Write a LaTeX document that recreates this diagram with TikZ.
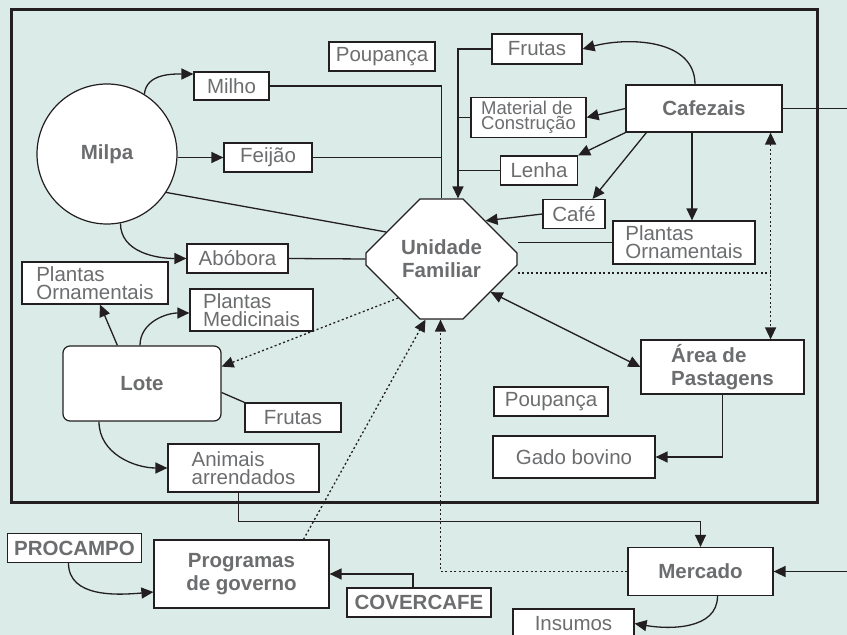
\documentclass[tikz,border=0pt]{standalone}
\usepackage{fontspec}
\setmainfont{Liberation Sans}
\usepackage{xcolor}
\usetikzlibrary{shapes, arrows.meta, calc, positioning, shapes.misc}
\definecolor{bgteal}{RGB}{219,235,232}
\definecolor{txtgray}{RGB}{108,109,111}
\definecolor{inkblack}{RGB}{35,31,32}

\newcommand{\regfont}{\fontsize{20.5}{18}\selectfont}
\newcommand{\heavyfont}{\fontsize{20.5}{23}\selectfont\bfseries}
\newcommand{\tinyfont}{\fontsize{18.5}{15}\selectfont}

\begin{document}
\begin{tikzpicture}[x=1pt, y=1pt, >={Triangle[length=12pt, width=11pt]}]
        \fill [bgteal] (0, 0) rectangle (847, 635);
        \useasboundingbox (0, 0) rectangle (847, 635);
        \clip (0, 0) rectangle (847, 635);

        \tikzstyle{box} = [draw=inkblack, fill=white, line width=1.2pt, inner sep=0pt, text=txtgray, align=left, font=\regfont];
        \tikzstyle{bbox} = [box, align=center, font=\heavyfont];
        \tikzstyle{ln} = [draw=inkblack, line width=1.3pt];
        \tikzstyle{arr} = [ln, ->];
        \tikzstyle{dotln} = [ln, dash pattern=on 2pt off 2.5pt];

        % moldura
        \draw [inkblack, line width=3pt] (11, 625) rectangle (817, 132);

        \coordinate (edge) at (847, 0);

        % unidade familiar
        \node [bbox, chamfered rectangle, chamfered rectangle xsep=44pt, chamfered rectangle ysep=35pt,
            minimum width=151pt, minimum height=120pt] (uf) at (441.5, 376) {Unidade\\Familiar};

        % milpa
        \node [bbox, circle, minimum size=140pt] (milpa) at (107, 481) {Milpa};
        \node [box, minimum width=75pt, minimum height=28pt] (milho) at (231.5, 549) {Milho};
        \node [box, minimum width=88pt, minimum height=29pt] (feijao) at (268, 477.5) {Feijão};
        \node [box, minimum width=101pt, minimum height=29pt] (abobora) at (237.5, 376.5) {Abóbora};
        \node [box, minimum width=106pt, minimum height=29pt] (poup1) at (382, 578.5) {Poupança};

        % lote
        \node [bbox, rounded corners=7pt, minimum width=158pt, minimum height=75pt] (lote) at (142, 251.5) {Lote};
        \node [box, minimum width=146pt, minimum height=42pt] (poleft) at (95, 352) {Plantas\\Ornamentais};
        \node [box, minimum width=123pt, minimum height=42pt] (pm) at (251.5, 325) {Plantas\\Medicinais};
        \node [box, minimum width=96pt, minimum height=29pt] (frutasl) at (293, 217.5) {Frutas};
        \node [box, minimum width=151pt, minimum height=48pt] (animais) at (243.5, 167) {Animais\\arrendados};

        % cafezais
        \node [bbox, minimum width=156pt, minimum height=47pt] (cafezais) at (704, 526.5) {Cafezais};
        \node [box, minimum width=90pt, minimum height=30pt] (frutasc) at (537, 586) {Frutas};
        \node [box, font=\tinyfont, minimum width=115pt, minimum height=40pt] (material) at (528.5, 517.5) {Material de\\Construção};
        \node [box, minimum width=77pt, minimum height=29pt] (lenha) at (539, 464.5) {Lenha};
        \node [box, minimum width=62pt, minimum height=29pt] (cafe) at (574, 421) {Café};
        \node [box, minimum width=142pt, minimum height=43pt] (poright) at (684, 392.5) {Plantas\\Ornamentais};

        % pastagens
        \node [bbox, align=left, minimum width=163pt, minimum height=54pt] (area) at (722.5, 268) {Área de\\Pastagens};
        \node [box, minimum width=114pt, minimum height=29pt] (poup2) at (551, 233.5) {Poupança};
        \node [box, minimum width=162pt, minimum height=42pt] (gado) at (574, 178) {Gado bovino};

        % fora
        \node [bbox, minimum width=134pt, minimum height=29pt] (procampo) at (74.5, 87) {PROCAMPO};
        \node [bbox, minimum width=175pt, minimum height=68pt] (prog) at (241.5, 61) {Programas\\de governo};
        \node [bbox, minimum width=144pt, minimum height=29pt] (covercafe) at (419, 32.5) {COVERCAFE};
        \node [bbox, minimum width=145pt, minimum height=48pt] (mercado) at (700.5, 63.5) {Mercado};
        \node [box, minimum width=121pt, minimum height=29pt] (insumos) at (573.5, 11.5) {Insumos};

        % ligacoes da milpa
        \draw [arr] (milpa.58) to [out=85, in=180] ($(milho.west)+(0, 12)$);
        \draw [arr] (milpa.east |- feijao.west) -- (feijao.west);
        \draw [arr] (milpa.-79) to [out=-90, in=180] (abobora.west);
        \draw [ln] (milpa.-33) -- (uf.154);
        \draw [ln] (milho.east) -| (uf.north);
        \draw [ln] (feijao.east) -- (feijao.east -| uf.north);
        \draw [ln] (abobora.east) -- (uf.west);

        % ligacoes dos cafezais
        \coordinate (ufin) at ($(uf.north)+(16.5, 0)$);
        \draw [arr] (frutasc.west) -| (ufin);
        \foreach \src in {material, lenha}{
            \draw [ln] (\src.west) -- (\src.west -| ufin);
        }
        \draw [arr] ($(cafezais.north)+(-9, 0)$) to [out=90, in=15] (frutasc.east);
        \draw [arr] (cafezais.west) -- (material.east);
        \draw [arr] (cafezais.south west) -- (lenha.north east);
        \draw [arr] ($(cafezais.south west)+(21, 0)$) -- ($(cafe.north east)+(-13, 0)$);
        \coordinate (cs) at ($(cafezais.south)+(-12, 0)$);
        \draw [arr] (cs) -- (cs |- poright.north);
        \draw [ln] (cafezais.east) -- (cafezais.east -| edge);
        \draw [arr] (cafe.west) -- (uf.41);
        \draw [ln] (poright.west) -- (poright.west -| uf.east);

        % pastagens
        \coordinate (dv) at ($(cafezais.south east)+(-12, 0)$);
        \coordinate (ufr) at ($(uf.east)+(0, -14)$);
        \draw [dotln, <->] (dv) -- (dv |- area.north);
        \draw [dotln] (ufr) -- (ufr -| dv);
        \draw [ln, <->] (uf.-34) -- (area.west);
        \draw [arr] (area.south) |- (gado.east);

        % lote
        \draw [dotln, ->] (uf.222) -- (lote.12);
        \draw [arr] ($(lote.north west)+(55, 0)$) -- ($(poleft.south)+(5, 0)$);
        \draw [arr] ($(lote.north)+(-2, 0)$) to [out=90, in=180] ($(pm.west)+(0, -3)$);
        \draw [ln] ($(lote.east)+(0, -9)$) -- (frutasl.north west);
        \draw [arr] ($(lote.south)+(-43, 0)$) to [out=-90, in=180] (animais.west);

        % fora da moldura
        \draw [arr] ($(animais.south)+(-5, 0)$) -- ++(0, -29) -| (mercado.north);
        \draw [dotln, ->] ($(prog.north)+(62, 0)$) -- ($(uf.south)+(-16, 0)$);
        \draw [dotln, ->] (mercado.west) -| ($(uf.south)+(-1, 0)$);
        \draw [arr] ($(covercafe.north)+(-6, 0)$) |- (prog.east);
        \draw [arr] ($(procampo.south)+(-6, 0)$) to [out=-90, in=185] ($(prog.west)+(0, -18)$);
        \draw [arr] (edge |- mercado.east) -- (mercado.east);
        \draw [arr] ($(mercado.south)+(17, 0)$) to [out=-90, in=-10] (insumos.east);
    \end{tikzpicture}
\end{document}
